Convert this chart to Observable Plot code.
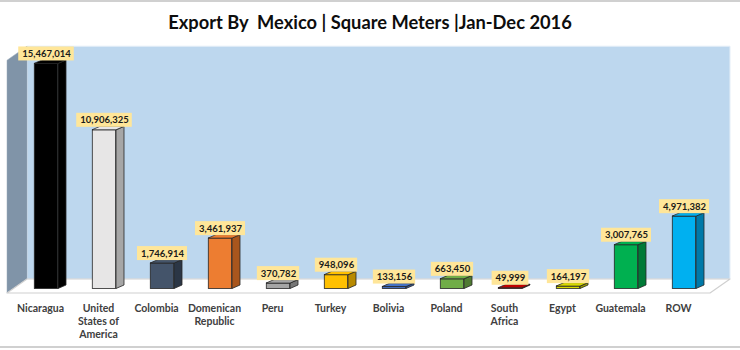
<!DOCTYPE html>
<html><head><meta charset="utf-8">
<script src="https://cdn.jsdelivr.net/npm/d3@7"></script>
<script src="https://cdn.jsdelivr.net/npm/@observablehq/plot@0.6"></script>
<style>
body{margin:0;background:#fff;}
#wrap{position:relative;width:740px;height:350px;overflow:hidden;background:#fff;}
#title{position:absolute;left:0;top:11px;width:740px;text-align:center;font-weight:bold;font-size:18.3px;line-height:22px;font-family:Lato,'DejaVu Sans Condensed',sans-serif;white-space:pre;color:#0d0d0d;}
#chart{position:absolute;left:0;top:0;}
.bt{position:absolute;left:0;width:740px;height:2px;background:#d0d0d0;}
</style></head><body>
<div id="wrap">
<div id="chart"></div>
<div id="title">Export By  Mexico | Square Meters |Jan-Dec 2016</div>
<div class="bt" style="top:0"></div>
<div class="bt" style="top:346px"></div>
</div>
<script>
const FONT = "Lato,'DejaVu Sans Condensed',sans-serif";
const countries = ["Nicaragua","United States of America","Colombia","Domenican Republic","Peru","Turkey","Bolivia","Poland","South Africa","Egypt","Guatemala","ROW"];
const tickLabels = ["Nicaragua","United\nStates of\nAmerica","Colombia","Domenican\nRepublic","Peru","Turkey","Bolivia","Poland","South\nAfrica","Egypt","Guatemala","ROW"];
const values = [15467014,10906325,1746914,3461937,370782,948096,133156,663450,49999,164197,3007765,4971382];
const frontColors = ["#000000","#e7e6e6","#44546a","#ed7d31","#a5a5a5","#ffc000","#4472c4","#70ad47","#c00000","#d9d900","#00b050","#00b0f0"];
const sideColors  = ["#000000","#a6a6a6","#2b3645","#a9561d","#767676","#b88a00","#2f5597","#4f7a32","#7f0000","#9a9a00","#007a37","#0079a8"];
const yMax = 16000000;

const data = countries.map((c, i) => ({country: c, label: tickLabels[i], value: values[i], front: frontColors[i], side: sideColors[i]}));
const fmt = d3.format(",");

// oblique projection offsets (pixels) relative to the front edge of the floor
const DX = {front: 0, barF: 6, barB: 14, back: 20};
const DY = {front: 4.5, barF: 0, barB: -3.5, back: -9.5};
const BAR_HALF = 12;

const W = 740, H = 350, ML = 7, MR = 30, MT = 55.7, MB = 61.5;
const bw = (W - ML - MR) / countries.length;

function poly(g, pts, fill, stroke, sw) {
  g.append("path").attr("d", "M" + pts.map(p => p.join(",")).join("L") + "Z")
    .attr("fill", fill).attr("stroke", stroke || "none").attr("stroke-width", sw || 0)
    .attr("stroke-linejoin", "round");
}

function walls(index, scales, values, dim) {
  const {y} = scales;
  const xl = dim.marginLeft, xr = dim.width - dim.marginRight;
  const P = (px, v, d) => [px + DX[d], y(v) + DY[d]];
  const g = d3.create("svg:g");
  poly(g, [P(xl, yMax, "back"), P(xr, yMax, "back"), P(xr, 0, "back"), P(xl, 0, "back")], "#bdd7ee", "#e4eef8", 1);
  poly(g, [P(xl, yMax, "front"), P(xl, yMax, "back"), P(xl, 0, "back"), P(xl, 0, "front")], "#8094a8", "#9aaabb", 0.5);
  poly(g, [P(xl, 0, "front"), P(xl, 0, "back"), P(xr, 0, "back"), P(xr, 0, "front")], "#ffffff", "#d0d0d0", 1.2);
  return g.node();
}

function barSides(index, scales) {
  const {x, y} = scales;
  const g = d3.create("svg:g");
  for (const d of data) {
    const c = x(d.country) + x.bandwidth() / 2;
    const L = c - BAR_HALF + DX.barF, R = c + BAR_HALF + DX.barF;
    const ox = DX.barB - DX.barF, oy = DY.barB - DY.barF;
    const yT = y(d.value) + DY.barF, yB = y(0) + DY.barF;
    poly(g, [[R, yT], [R + ox, yT + oy], [R + ox, yB + oy], [R, yB]], d.side, "#262626", 0.8);
    poly(g, [[L, yT], [R, yT], [R + ox, yT + oy], [L + ox, yT + oy]], d.front, "#262626", 0.8);
  }
  return g.node();
}

const LABEL_FS = 9.5;
const ctx = document.createElement("canvas").getContext("2d");
ctx.font = "bold " + LABEL_FS + "px " + FONT;

function labelBoxes(index, scales) {
  const {x, y} = scales;
  const g = d3.create("svg:g");
  for (const d of data) {
    const c = x(d.country) + x.bandwidth() / 2 + DX.barF;
    const w = ctx.measureText(fmt(d.value)).width + 7;
    const yT = y(d.value) + DY.barF;
    g.append("rect").attr("x", c - w / 2).attr("y", yT - 17).attr("width", w).attr("height", 14).attr("fill", "#ffe699");
  }
  return g.node();
}

const chart = Plot.plot({
  width: W, height: H,
  marginLeft: ML, marginRight: MR, marginTop: MT, marginBottom: MB,
  x: {type: "band", domain: countries, padding: 0, axis: null},
  y: {domain: [0, yMax], axis: null},
  color: {type: "identity"},
  style: {background: "transparent", overflow: "visible", fontFamily: FONT},
  marks: [
    walls,
    Plot.barY(data, {x: "country", y: "value", fill: "front", stroke: "#262626", strokeWidth: 0.8,
      insetLeft: bw / 2 - BAR_HALF + DX.barF, insetRight: bw / 2 - BAR_HALF - DX.barF}),
    barSides,
    labelBoxes,
    Plot.text(data, {x: "country", y: "value", text: d => fmt(d.value), dx: DX.barF, dy: -10,
      fontSize: LABEL_FS, fontWeight: "bold", fill: "#1a1a1a"}),
    Plot.text(data, {x: "country", text: "label", frameAnchor: "bottom", lineAnchor: "top", dy: 13,
      fontSize: 10.5, fontWeight: "bold", fill: "#404040", lineHeight: 1.28})
  ]
});
document.getElementById("chart").appendChild(chart);
</script>
</body></html>
